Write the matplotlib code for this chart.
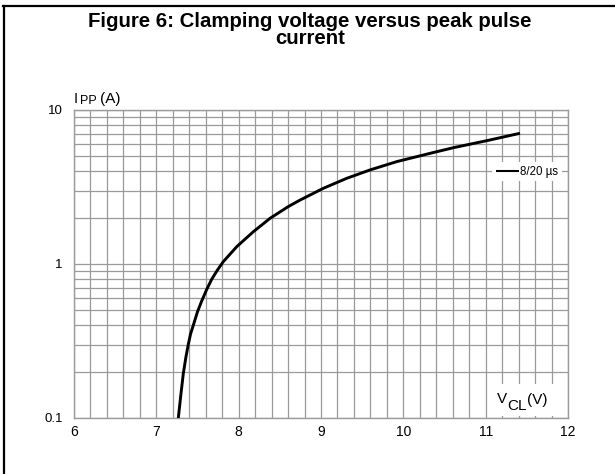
import matplotlib
matplotlib.use("Agg")
import matplotlib.pyplot as plt
from matplotlib.lines import Line2D
from matplotlib.patches import Rectangle
from matplotlib.ticker import FixedLocator, NullFormatter

# curve (clamping voltage V, peak pulse current A)
v_cl = [7.267, 7.30, 7.328, 7.360, 7.388, 7.415, 7.449, 7.50, 7.551, 7.61,
        7.672, 7.74, 7.813, 7.976, 8.178, 8.381, 8.603, 8.745, 9.028, 9.312,
        9.595, 9.919, 10.324, 10.607, 11.013, 11.417]
i_pp = [0.1, 0.145, 0.195, 0.25, 0.30, 0.35, 0.40, 0.49, 0.575, 0.68,
        0.795, 0.91, 1.035, 1.295, 1.62, 1.98, 2.36, 2.60, 3.10, 3.60,
        4.08, 4.62, 5.23, 5.69, 6.32, 7.06]
series_label = "8/20 µs"

x_ticks = [6, 7, 8, 9, 10, 11, 12]
y_ticks = [0.1, 1, 10]
y_ticklabels = ["0.1", "1", "10"]

W, H = 615, 474


def fx(px):
    return px / W


def fy(py):
    return 1 - py / H


plt.rcParams["font.family"] = ["Liberation Sans", "DejaVu Sans"]

fig = plt.figure(figsize=(6.15, 4.74), dpi=100)
ax = fig.add_axes([fx(74), fy(418), fx(568) - fx(74), fy(110) - fy(418)])

ax.plot(v_cl, i_pp, color="black", lw=2.1, label=series_label, zorder=3,
        solid_capstyle="butt", solid_joinstyle="round")
ax.set_yscale("log")
ax.set_xlim(6, 12)
ax.set_ylim(0.1, 10)

grid_c = "#9a9a9a"
ax.xaxis.set_major_locator(FixedLocator(x_ticks))
ax.xaxis.set_minor_locator(FixedLocator([6 + 0.2 * k for k in range(31)]))
ax.yaxis.set_major_locator(FixedLocator(y_ticks))
ax.yaxis.set_minor_locator(FixedLocator([m * d for d in (0.1, 1) for m in range(2, 10)]))
ax.yaxis.set_minor_formatter(NullFormatter())
ax.set_yticklabels(y_ticklabels)
ax.grid(True, which="both", color=grid_c, lw=0.9)
ax.tick_params(which="both", length=0)
ax.tick_params(axis="x", labelsize=10, pad=5)
ax.tick_params(axis="y", labelsize=9.5, pad=8)
for s in ax.spines.values():
    s.set_color(grid_c)
    s.set_linewidth(1.0)

leg = ax.legend(loc="center left", bbox_to_anchor=(0.847, 0.80), fontsize=8.3,
                frameon=True, fancybox=False, handlelength=2.0,
                handletextpad=0.1, borderpad=0.3, borderaxespad=0)
leg.get_frame().set_edgecolor("none")
leg.get_frame().set_facecolor("white")
leg.get_frame().set_alpha(1)
leg.get_lines()[0].set_linewidth(1.5)

# V_CL(V) label box inside the plot
fig.add_artist(Rectangle((fx(492), fy(416)), fx(567) - fx(492), fy(384) - fy(416),
                         transform=fig.transFigure, facecolor="white",
                         edgecolor="none", zorder=2))
fig.text(fx(497), fy(403), "V", fontsize=11, va="baseline", ha="left", zorder=4)
fig.text(fx(507), fy(410), "CL", fontsize=11, va="baseline", ha="left", zorder=4)
fig.text(fx(527), fy(404), "(V)", fontsize=11, va="baseline", ha="left", zorder=4)

# I_PP(A) label
fig.text(fx(74), fy(103), "I", fontsize=10.5, va="baseline", ha="left")
fig.text(fx(80), fy(104), "PP", fontsize=9, va="baseline", ha="left")
fig.text(fx(100), fy(103), "(A)", fontsize=11, va="baseline", ha="left")

fig.text(fx(310), fy(12), "Figure 6: Clamping voltage versus peak pulse\ncurrent",
         ha="center", va="top", fontsize=14.7, fontweight="bold",
         linespacing=0.9, multialignment="center")

# page frame (left and top edges)
fig.add_artist(Line2D([fx(4), fx(4)], [fy(474), fy(6)], transform=fig.transFigure,
                      color="black", lw=1.6))
fig.add_artist(Line2D([fx(3), fx(615)], [fy(6), fy(6)], transform=fig.transFigure,
                      color="black", lw=1.6))

fig.savefig("out.png", dpi=100)
